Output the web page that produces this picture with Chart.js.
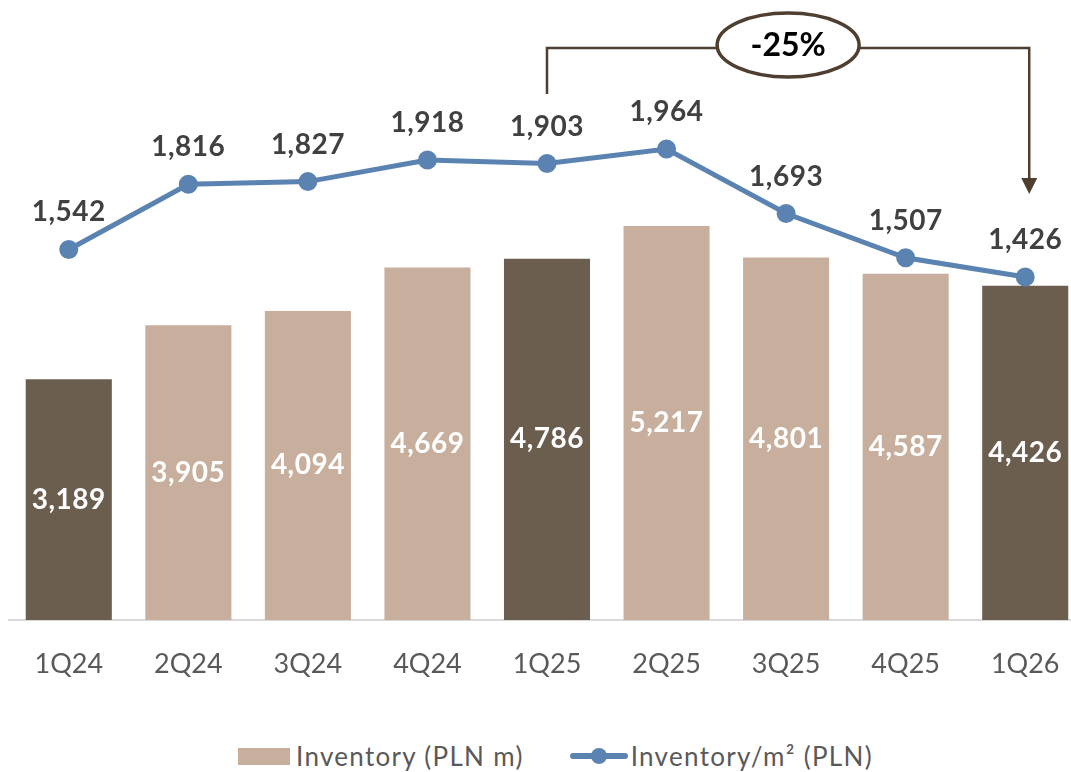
<!DOCTYPE html>
<html>
<head>
<meta charset="utf-8">
<script src="https://cdn.jsdelivr.net/npm/chart.js@4.4.1/dist/chart.umd.min.js"></script>
<style>
    html, body { margin: 0; padding: 0; background: #fff; overflow: hidden; }
    #wrap { position: relative; width: 1071px; height: 772px; overflow: hidden; }
    #inventoryChart { position: absolute; left: 0; top: 0; }
    #legend {
        position: absolute; left: 238px; top: 740px;
        display: flex; align-items: center;
        font-family: Lato, "Open Sans", sans-serif; font-size: 26px; letter-spacing: 1.3px; color: #595959;
    }
    .lg-item { display: flex; align-items: center; white-space: nowrap; }
    .lg-item + .lg-item { margin-left: 46px; }
    .lg-box { flex-shrink: 0; width: 52px; height: 17px; margin-right: 6px; }
    .lg-line { flex-shrink: 0; position: relative; width: 58px; height: 6px; margin-right: 3px; border-radius: 3px; }
    .lg-line::after {
        content: ''; position: absolute; left: 21px; top: -5px;
        width: 16px; height: 16px; border-radius: 50%; background: inherit;
    }
</style>
</head>
<body>
<div id="wrap">
    <!-- płótno szersze od okna: ostatni słupek dochodzi do prawej krawędzi -->
    <canvas id="inventoryChart" width="1085" height="700"></canvas>
    <div id="legend"></div>
</div>
<script>
// Kwartały i wartości
const categories = ['1Q24', '2Q24', '3Q24', '4Q24', '1Q25', '2Q25', '3Q25', '4Q25', '1Q26'];
const inventoryValue = [3189, 3905, 4094, 4669, 4786, 5217, 4801, 4587, 4426];
const inventoryPerSqm = [1542, 1816, 1827, 1918, 1903, 1964, 1693, 1507, 1426];
const highlightQuarters = ['1Q24', '1Q25', '1Q26'];
const seriesNames = ['Inventory (PLN m)', 'Inventory/m² (PLN)'];
// porównanie r/r w ramce
const compareFrom = '1Q25';
const compareTo = '1Q26';

const COLORS = {
    barLight: '#C8AF9D',
    barDark: '#6B5E4F',
    line: '#5B83B1',
    label: '#404040',
    tick: '#595959',
    bracket: '#4E3F30'
};
const FONT = 'Lato, "Open Sans", sans-serif';
const fmt = v => v.toLocaleString('en-US');

// Etykiety wartości (słupki, punkty linii) i podpisy kwartałów pod osią
const valueLabels = {
    id: 'valueLabels',
    afterDatasetsDraw(chart) {
        const ctx = chart.ctx;
        const xScale = chart.scales.x;
        ctx.save();
        ctx.textAlign = 'center';
        ctx.textBaseline = 'middle';
        ctx.font = 'bold 28px ' + FONT;
        ctx.letterSpacing = '0.5px';

        chart.getDatasetMeta(1).data.forEach((bar, i) => {
            ctx.fillStyle = '#ffffff';
            ctx.fillText(fmt(inventoryValue[i]), bar.x, (bar.y + bar.base) / 2);
        });

        chart.getDatasetMeta(0).data.forEach((pt, i) => {
            ctx.fillStyle = COLORS.label;
            ctx.fillText(fmt(inventoryPerSqm[i]), pt.x, pt.y - 37);
        });

        ctx.font = '27px ' + FONT;
        ctx.letterSpacing = '0px';
        ctx.fillStyle = COLORS.tick;
        categories.forEach((c, i) => {
            ctx.fillText(c, xScale.getPixelForValue(i), chart.chartArea.bottom + 44);
        });
        ctx.restore();
    }
};

// Klamra ze strzałką i zmianą procentową
const changeBracket = {
    id: 'changeBracket',
    afterDraw(chart) {
        const ctx = chart.ctx;
        const pts = chart.getDatasetMeta(0).data;
        const iFrom = categories.indexOf(compareFrom);
        const iTo = categories.indexOf(compareTo);
        const x1 = pts[iFrom].x;
        const x2 = pts[iTo].x + 4;
        const topY = 48;
        const leftEnd = 94;
        const tipY = 194;
        const change = Math.round((inventoryPerSqm[iTo] - inventoryPerSqm[iFrom]) / inventoryPerSqm[iFrom] * 100);

        ctx.save();
        ctx.strokeStyle = COLORS.bracket;
        ctx.lineWidth = 2.5;
        ctx.beginPath();
        ctx.moveTo(x1, leftEnd);
        ctx.lineTo(x1, topY);
        ctx.lineTo(x2, topY);
        ctx.lineTo(x2, tipY - 14);
        ctx.stroke();

        ctx.fillStyle = COLORS.bracket;
        ctx.beginPath();
        ctx.moveTo(x2 - 8, tipY - 16);
        ctx.lineTo(x2 + 8, tipY - 16);
        ctx.lineTo(x2, tipY);
        ctx.closePath();
        ctx.fill();

        const cx = (x1 + x2) / 2;
        ctx.fillStyle = '#ffffff';
        ctx.lineWidth = 3.5;
        ctx.beginPath();
        ctx.ellipse(cx, topY - 3, 71, 32, 0, 0, Math.PI * 2);
        ctx.fill();
        ctx.stroke();

        ctx.fillStyle = '#000000';
        ctx.font = 'bold 32px ' + FONT;
        ctx.textAlign = 'center';
        ctx.textBaseline = 'middle';
        ctx.fillText((change > 0 ? '+' : '') + change + '%', cx, topY - 2);
        ctx.restore();
    }
};

const chart = new Chart(document.getElementById('inventoryChart'), {
    type: 'bar',
    data: {
        labels: categories,
        datasets: [
            {
                type: 'line',
                label: seriesNames[1],
                data: inventoryPerSqm,
                yAxisID: 'yLine',
                borderColor: COLORS.line,
                backgroundColor: COLORS.line,
                borderWidth: 5,
                pointRadius: 7,
                pointHoverRadius: 7,
                tension: 0,
                order: 0
            },
            {
                type: 'bar',
                label: seriesNames[0],
                data: inventoryValue,
                yAxisID: 'yBar',
                backgroundColor: categories.map(c => highlightQuarters.includes(c) ? COLORS.barDark : COLORS.barLight),
                categoryPercentage: 1,
                barPercentage: 0.72,
                order: 1
            }
        ]
    },
    options: {
        responsive: false,
        animation: false,
        devicePixelRatio: 1,
        layout: { autoPadding: false, padding: { left: 9, right: 0, top: 20, bottom: 80 } },
        plugins: {
            legend: { display: false },
            tooltip: { enabled: false }
        },
        scales: {
            x: {
                offset: true,
                grid: { display: false, drawTicks: false },
                border: { display: true, color: '#D9D9D9', width: 2 },
                ticks: { display: false }
            },
            yBar: { display: false, min: 0, max: 7947 },
            yLine: { display: false, min: -15, max: 2506 }
        }
    },
    plugins: [valueLabels, changeBracket]
});

// Legenda HTML
const legend = document.getElementById('legend');
legend.innerHTML =
    '<div class="lg-item"><span class="lg-box" style="background:' + COLORS.barLight + '"></span>' + seriesNames[0] + '</div>' +
    '<div class="lg-item"><span class="lg-line" style="background:' + COLORS.line + '"></span>' + seriesNames[1] + '</div>';
</script>
</body>
</html>
